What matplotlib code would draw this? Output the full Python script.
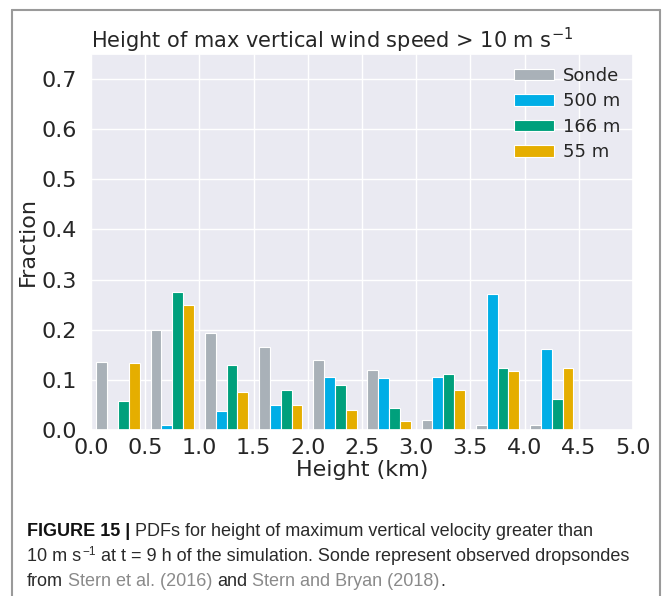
import matplotlib
matplotlib.use("Agg")
import matplotlib.pyplot as plt
import numpy as np
import seaborn as sns
from matplotlib.transforms import IdentityTransform
from matplotlib.lines import Line2D

# ---- data ----
bin_starts = [0.0, 0.5, 1.0, 1.5, 2.0, 2.5, 3.0, 3.5, 4.0, 4.5]
series_names = ["Sonde", "500 m", "166 m", "55 m"]
sonde = [0.135, 0.200, 0.193, 0.165, 0.139, 0.120, 0.019, 0.009, 0.009, 0.0]
m500 = [0.0, 0.009, 0.038, 0.050, 0.105, 0.103, 0.106, 0.271, 0.162, 0.0]
m166 = [0.057, 0.275, 0.129, 0.080, 0.089, 0.044, 0.112, 0.123, 0.062, 0.0]
m55 = [0.134, 0.250, 0.076, 0.049, 0.039, 0.017, 0.080, 0.118, 0.124, 0.0]
colors = ["#a9b1b8", "#00aee6", "#00a07c", "#e5ae00"]
xtick_vals = [0.0, 0.5, 1.0, 1.5, 2.0, 2.5, 3.0, 3.5, 4.0, 4.5, 5.0]
ytick_vals = [0.0, 0.1, 0.2, 0.3, 0.4, 0.5, 0.6, 0.7]

title = "Height of max vertical wind speed > 10 m s$^{-1}$"
xlabel = "Height (km)"
ylabel = "Fraction"

sns.set_theme(style="darkgrid")
plt.rcParams['font.family'] = ['DejaVu Sans']

W, H = 662, 596
fig = plt.figure(figsize=(W / 100, H / 100), dpi=100)
ax = fig.add_axes([91 / W, 1 - 430 / H, (633 - 91) / W, (430 - 54) / H])

bw = 0.1
centers = np.array(bin_starts) + 0.25
for i, (vals, name, c) in enumerate(zip([sonde, m500, m166, m55], series_names, colors)):
    ax.bar(centers + (i - 1.5) * bw, vals, width=bw, color=c, edgecolor="white",
           linewidth=0.8, label=name)

ax.set_xlim(0, 5)
ax.set_ylim(0, 0.75)
ax.set_xticks(xtick_vals)
ax.set_yticks(ytick_vals)
ax.set_xticklabels([f"{v:.1f}" for v in xtick_vals])
ax.set_yticklabels([f"{v:.1f}" for v in ytick_vals])
ax.tick_params(labelsize=16, colors="#262626")
ax.tick_params(axis="x", pad=0)
ax.tick_params(axis="y", pad=4)
ax.set_xlabel(xlabel, fontsize=16, labelpad=1)
ax.set_ylabel(ylabel, fontsize=16, labelpad=3)
ax.set_title(title, fontsize=15, loc="left", pad=4)
ax.legend(loc="upper right", fontsize=13, frameon=False, handlelength=2.2,
          handleheight=0.6, borderaxespad=0.3, labelspacing=0.42, handletextpad=0.5)

# frame around figure
fcol = "#9a9a9a"
fig.add_artist(Line2D([12 / W, 12 / W], [0, 1 - 10 / H], transform=fig.transFigure,
                      color=fcol, lw=1.5))
fig.add_artist(Line2D([12 / W, 660 / W], [1 - 10 / H, 1 - 10 / H], transform=fig.transFigure,
                      color=fcol, lw=1.5))
fig.add_artist(Line2D([660 / W, 660 / W], [0, 1 - 10 / H], transform=fig.transFigure,
                      color=fcol, lw=1.5))

# caption
renderer = fig.canvas.get_renderer()
cap_fs = 13.0
cap_font = "Liberation Sans"


def width_of(s, **kw):
    t = fig.text(0, 0, s, fontsize=kw.get("fontsize", cap_fs), family=cap_font,
                 weight=kw.get("weight", "normal"), transform=IdentityTransform())
    w = t.get_window_extent(renderer).width
    t.remove()
    return w


space_w = width_of("a a") - width_of("aa")


def draw_line(x, ybase, pieces):
    for s, kw in pieces:
        if s == " ":
            x += space_w
            continue
        fs = kw.get("fontsize", cap_fs)
        dy = kw.get("dy", 0)
        t = fig.text(x, H - ybase + dy, s, fontsize=fs, family=cap_font,
                     weight=kw.get("weight", "normal"), color=kw.get("color", "#2a2a2a"),
                     transform=IdentityTransform(), va="baseline", ha="left")
        x += t.get_window_extent(renderer).width + kw.get("extra", 0)


gray = "#8a8a8a"
draw_line(27, 536, [("FIGURE 15 |", {"weight": "bold", "color": "#111111"}), (" ", {}),
                    ("PDFs for height of maximum vertical velocity greater than", {})])
draw_line(27, 561, [("10 m s", {"extra": 1}), ("−1", {"fontsize": 8.5, "dy": 6}), (" ", {}),
                    ("at t = 9 h of the simulation. Sonde represent observed dropsondes", {})])
draw_line(27, 586, [("from", {}), (" ", {}), ("Stern et al. (2016)", {"color": gray}), (" ", {}),
                    ("and", {}), (" ", {}), ("Stern and Bryan (2018)", {"color": gray}),
                    (".", {})])

fig.savefig("out.png", dpi=100)
